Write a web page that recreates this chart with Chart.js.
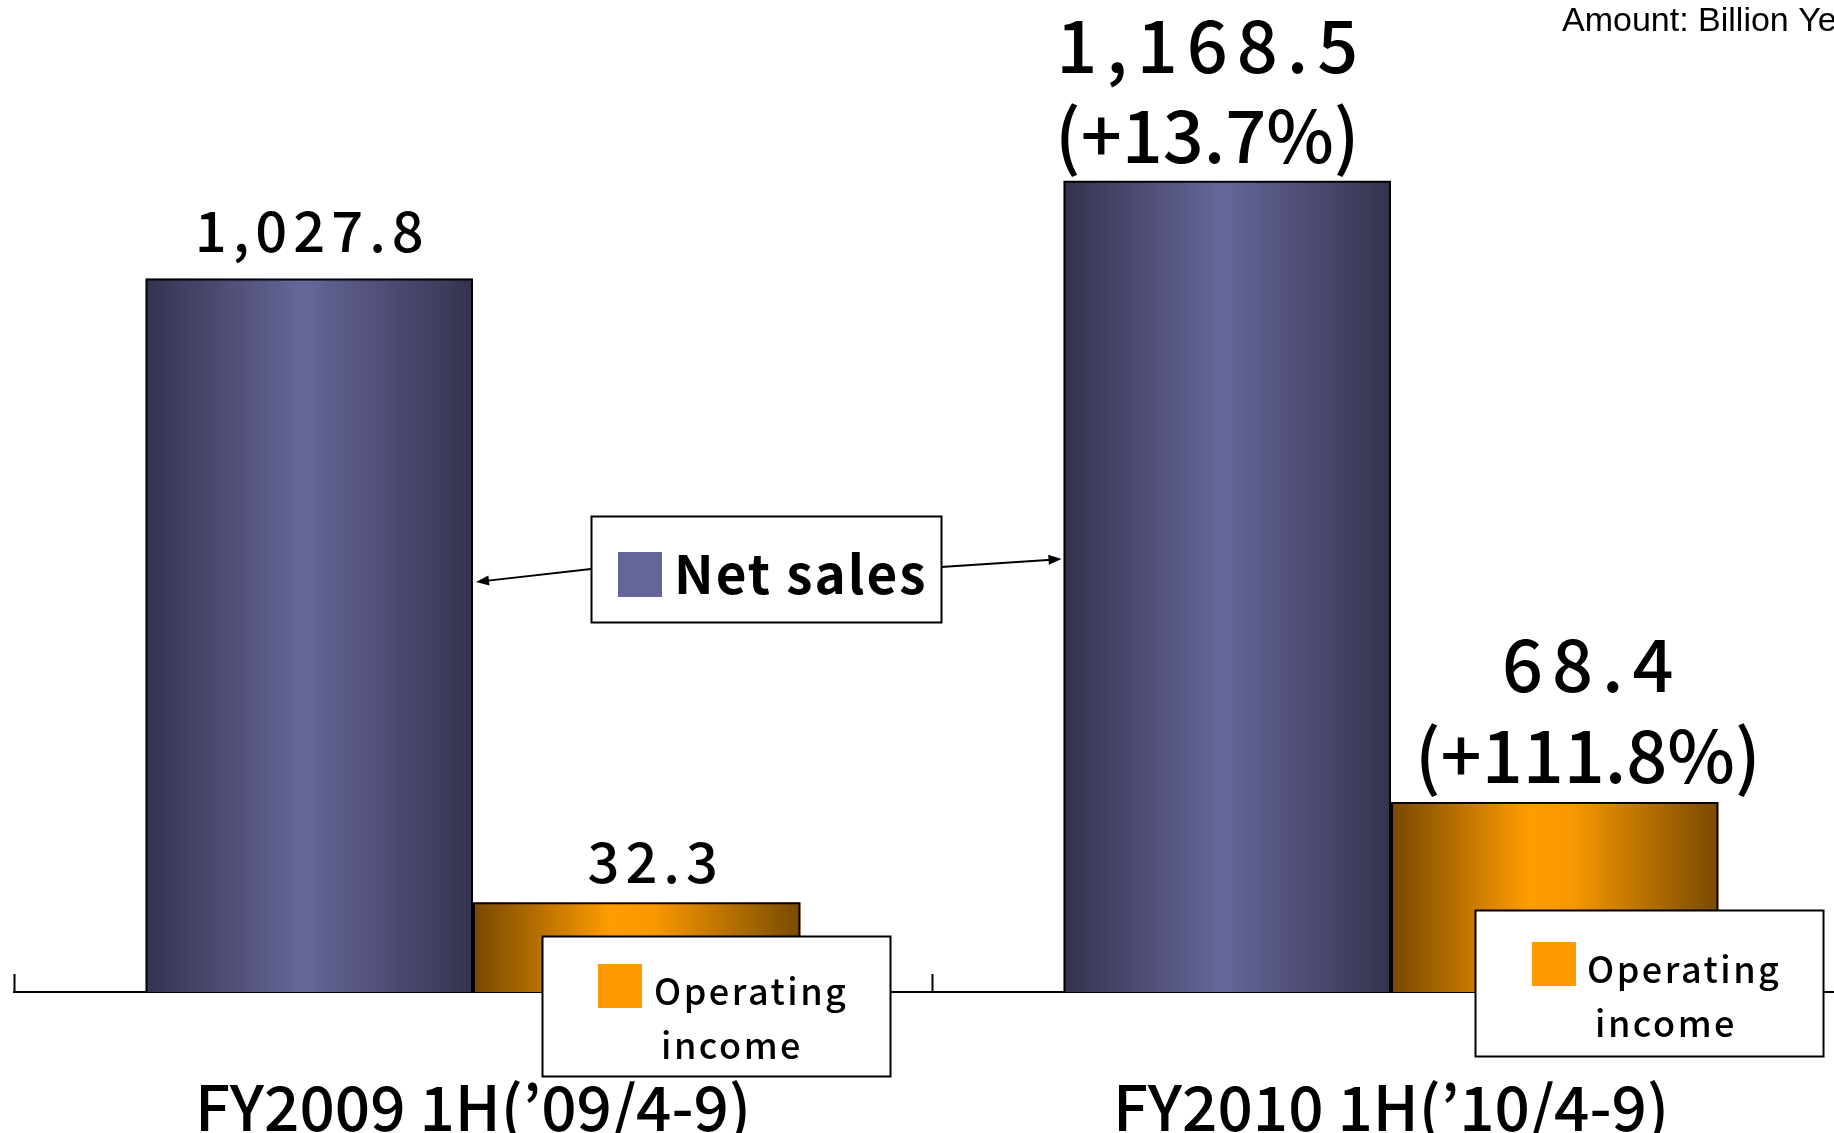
<!DOCTYPE html>
<html>
<head>
<meta charset="utf-8">
<title>Net sales / Operating income</title>
<script src="https://cdn.jsdelivr.net/npm/chart.js@4.4.1/dist/chart.umd.min.js"></script>
<style>
  html, body { margin: 0; padding: 0; background: #fff; overflow: hidden; }
  #wrap { position: relative; width: 1850px; height: 1133px; }
</style>
</head>
<body>
<div id="wrap"><canvas id="chart"></canvas></div>
<script>
const categories = ['FY2009 1H(’09/4-9)', 'FY2010 1H(’10/4-9)'];
const netSales = [1027.8, 1168.5];
const operatingIncome = [32.3, 68.4];
const netSalesChange = [null, '+13.7%'];
const operatingIncomeChange = [null, '+111.8%'];
const seriesNames = ['Net sales', 'Operating income'];
const unitNote = 'Amount: Billion Yen';

const FONT = "'Noto Sans CJK JP', 'Noto Sans', sans-serif";

const fmt = v => v.toLocaleString('en-US', { minimumFractionDigits: 1, maximumFractionDigits: 1 });

// horizontal shading on each bar (dark edges, light centre)
const barShading = {
  id: 'barShading',
  beforeDatasetsDraw(chart) {
    const ctx = chart.ctx;
    chart.data.datasets.forEach((ds, di) => {
      chart.getDatasetMeta(di).data.forEach(bar => {
        const left = bar.x - bar.width / 2;
        const g = ctx.createLinearGradient(left, 0, left + bar.width, 0);
        ds.shade.forEach(([p, c]) => g.addColorStop(p, c));
        ctx.save();
        ctx.fillStyle = g;
        ctx.fillRect(left, bar.y, bar.width, bar.base - bar.y);
        ctx.restore();
      });
    });
  }
};

const valueLabels = {
  id: 'valueLabels',
  afterDatasetsDraw(chart, args, opts) {
    const ctx = chart.ctx;
    chart.data.datasets.forEach((ds, di) => {
      chart.getDatasetMeta(di).data.forEach((bar, i) => {
        const st = opts.styles[di][i];
        const lines = [fmt(ds.data[i])];
        if (ds.change[i]) lines.push('(' + ds.change[i] + ')');
        ctx.save();
        ctx.fillStyle = '#000';
        ctx.textAlign = 'center';
        ctx.textBaseline = 'alphabetic';
        ctx.font = `500 ${st.size}px ${FONT}`;
        let y = bar.y - st.gap;
        for (let k = lines.length - 1; k >= 0; k--) {
          ctx.letterSpacing = k === 0 ? st.spacing + 'px' : '0px';
          ctx.fillText(lines[k], bar.x + st.dx + (k === 0 ? st.spacing / 2 : 0), y);
          y -= st.lineGap;
        }
        ctx.restore();
      });
    });
  }
};

function arrow(ctx, x1, y1, x2, y2) {
  const a = Math.atan2(y2 - y1, x2 - x1);
  ctx.beginPath();
  ctx.moveTo(x1, y1);
  ctx.lineTo(x2 - 10 * Math.cos(a), y2 - 10 * Math.sin(a));
  ctx.stroke();
  ctx.beginPath();
  ctx.moveTo(x2, y2);
  ctx.lineTo(x2 - 13 * Math.cos(a) + 5 * Math.sin(a), y2 - 13 * Math.sin(a) - 5 * Math.cos(a));
  ctx.lineTo(x2 - 13 * Math.cos(a) - 5 * Math.sin(a), y2 - 13 * Math.sin(a) + 5 * Math.cos(a));
  ctx.closePath();
  ctx.fill();
}

const callouts = {
  id: 'callouts',
  afterDraw(chart) {
    const ctx = chart.ctx;
    const xs = chart.scales.x;
    const n = categories.length;
    const step = (xs.right - xs.left) / n;
    ctx.save();
    ctx.strokeStyle = '#000';
    ctx.fillStyle = '#000';
    ctx.lineWidth = 2;

    // category separators pointing up from the axis
    for (let k = 0; k <= n; k++) {
      const x = Math.round(xs.left + k * step) + 0.5;
      ctx.beginPath();
      ctx.moveTo(x, xs.top - 18);
      ctx.lineTo(x, xs.top);
      ctx.stroke();
    }

    // net sales callout with arrows to both bars
    const ns = chart.getDatasetMeta(0).data;
    arrow(ctx, 591, 569, ns[0].x + ns[0].width / 2 + 3, 582);
    arrow(ctx, 941, 567, ns[1].x - ns[1].width / 2 - 2, 559);

    const box = (x, y, w, h) => {
      ctx.fillStyle = '#fff';
      ctx.fillRect(x, y, w, h);
      ctx.strokeRect(x + 0.5, y + 0.5, w, h);
    };

    box(591, 516, 350, 106);
    ctx.fillStyle = chart.data.datasets[0].swatch;
    ctx.fillRect(618, 552, 44, 45);
    ctx.fillStyle = '#000';
    ctx.font = `bold 53px ${FONT}`;
    ctx.letterSpacing = '2px';
    ctx.textAlign = 'left';
    ctx.textBaseline = 'alphabetic';
    ctx.fillText(seriesNames[0], 674, 594);

    const [w1, w2] = seriesNames[1].split(' ');
    const opBoxes = [
      { x: 542, y: 936, w: 348, h: 140, sx: 598, sy: 964, tx: 654, ty: 1005, ix: 731, iy: 1059 },
      { x: 1475, y: 910, w: 348, h: 146, sx: 1532, sy: 942, tx: 1587, ty: 983, ix: 1665, iy: 1037 }
    ];
    opBoxes.forEach(b => {
      box(b.x, b.y, b.w, b.h);
      ctx.fillStyle = chart.data.datasets[1].swatch;
      ctx.fillRect(b.sx, b.sy, 44, 44);
      ctx.fillStyle = '#000';
      ctx.font = `500 36px ${FONT}`;
      ctx.letterSpacing = '2.5px';
      ctx.textAlign = 'left';
      ctx.fillText(w1, b.tx, b.ty);
      ctx.textAlign = 'center';
      ctx.fillText(w2, b.ix + 1, b.iy);
    });

    ctx.letterSpacing = '0px';
    ctx.textAlign = 'left';
    ctx.font = `34px 'Liberation Sans', Arial, sans-serif`;
    ctx.fillText(unitNote, 1562, 31);
    ctx.restore();
  }
};

new Chart(document.getElementById('chart'), {
  type: 'bar',
  data: {
    labels: categories,
    datasets: [
      {
        label: seriesNames[0],
        data: netSales,
        change: netSalesChange,
        yAxisID: 'y',
        backgroundColor: 'rgba(0,0,0,0)',
        borderColor: '#000',
        borderWidth: 2,
        borderSkipped: 'start',
        swatch: '#65659a',
        shade: [[0, '#33334f'], [0.48, '#67679a'], [1, '#33334f']]
      },
      {
        label: seriesNames[1],
        data: operatingIncome,
        change: operatingIncomeChange,
        yAxisID: 'y1',
        backgroundColor: 'rgba(0,0,0,0)',
        borderColor: '#000',
        borderWidth: 2,
        borderSkipped: 'start',
        swatch: '#ff9900',
        shade: [[0, '#764800'], [0.42, '#ff9c00'], [0.55, '#f99800'], [1, '#784a00']]
      }
    ]
  },
  options: {
    responsive: true,
    maintainAspectRatio: false,
    animation: false,
    categoryPercentage: 0.7135,
    barPercentage: 1,
    layout: { padding: { left: 14, right: 0, top: 20, bottom: 0 } },
    plugins: {
      legend: { display: false },
      tooltip: { enabled: false },
      valueLabels: {
        styles: [
          [{ size: 56, dx: 0, gap: 26, lineGap: 90, spacing: 6 },
           { size: 72, dx: -20, gap: 18, lineGap: 90, spacing: 9 }],
          [{ size: 56, dx: 16, gap: 19, lineGap: 90, spacing: 6 },
           { size: 72, dx: 33, gap: 19, lineGap: 91, spacing: 9 }]
        ]
      }
    },
    scales: {
      x: {
        offset: true,
        grid: { display: false },
        border: { display: true, color: '#000', width: 2 },
        ticks: {
          color: '#000',
          font: { family: FONT, size: 62, weight: '500' },
          padding: 70,
          maxRotation: 0,
          autoSkip: false
        },
        afterFit(scale) { scale.height = 141; }
      },
      y: { display: false, min: 0, max: 1400 },
      y1: { display: false, min: 0, max: 350 }
    }
  },
  plugins: [barShading, valueLabels, callouts]
});
</script>
</body>
</html>
